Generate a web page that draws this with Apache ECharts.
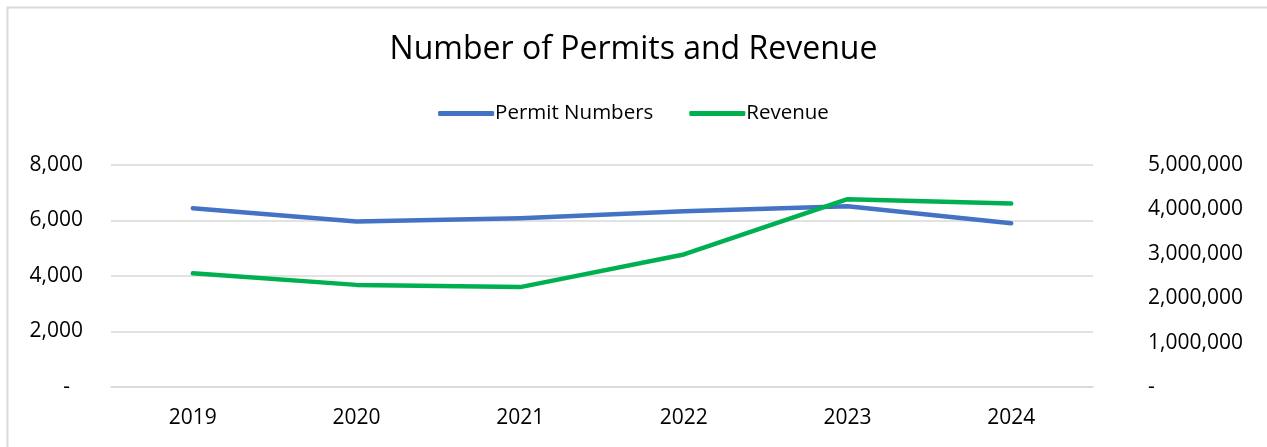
<!DOCTYPE html>
<html>
<head>
<meta charset="utf-8">
<script src="https://cdn.jsdelivr.net/npm/echarts@6/dist/echarts.min.js"></script>
<style>
html,body{margin:0;padding:0;background:#fff;}
#c{width:1267px;height:447px;}
</style>
</head>
<body>
<div id="c"></div>
<script>
const categories = ['2019', '2020', '2021', '2022', '2023', '2024'];
const permitNumbers = [6440, 5960, 6080, 6330, 6510, 5900];
const revenue = [2560000, 2300000, 2250000, 2985000, 4230000, 4135000];
const leftTicks = [0, 2000, 4000, 6000, 8000];
const rightTicks = [0, 1000000, 2000000, 3000000, 4000000, 5000000];

const FONT = 'Open Sans';
const fmt = v => v === 0 ? '-' : v.toLocaleString('en-US');

const chart = echarts.init(document.getElementById('c'), null, {renderer: 'canvas'});
chart.setOption({
  animation: false,
  backgroundColor: '#fff',
  textStyle: {fontFamily: FONT},
  graphic: [{
    type: 'rect', left: 5, top: 5,
    shape: {width: 1261, height: 460},
    style: {fill: 'none', stroke: '#d9d9d9', lineWidth: 2},
    silent: true
  }],
  title: {
    text: 'Number of Permits and Revenue',
    left: 'center', top: 29,
    textStyle: {fontFamily: FONT, fontSize: 32, fontWeight: 'normal', color: '#000'}
  },
  legend: {
    top: 98, left: 'center',
    itemWidth: 56, itemHeight: 5, itemGap: 36,
    icon: 'roundRect',
    textStyle: {fontFamily: FONT, fontSize: 20.5, color: '#000', padding: [0, 0, 0, -4]},
    data: ['Permit Numbers', 'Revenue']
  },
  grid: {left: 111, right: 174, top: 165, bottom: 60, containLabel: false},
  xAxis: {
    type: 'category', data: categories, boundaryGap: true,
    axisLine: {show: true, lineStyle: {color: '#d9d9d9', width: 1.5}},
    axisTick: {show: false},
    axisLabel: {fontFamily: FONT, fontSize: 21, color: '#000', margin: 21}
  },
  yAxis: [{
    type: 'value', min: 0, max: 8000, interval: 2000,
    axisLine: {show: false}, axisTick: {show: false},
    splitLine: {lineStyle: {color: '#d9d9d9', width: 1.5}},
    axisLabel: {
      fontFamily: FONT, fontSize: 21, color: '#000', margin: 28,
      formatter: v => v === 0 ? '{d|-}' : fmt(v),
      rich: {d: {fontFamily: FONT, fontSize: 21, color: '#000', padding: [0, 13, 0, 0]}}
    }
  }, {
    type: 'value', min: 0, max: 5000000, interval: 1000000,
    axisLine: {show: false}, axisTick: {show: false},
    splitLine: {show: false},
    axisLabel: {
      fontFamily: FONT, fontSize: 21, color: '#000', margin: 55, align: 'left',
      formatter: fmt
    }
  }],
  series: [{
    name: 'Permit Numbers', type: 'line', yAxisIndex: 0,
    data: permitNumbers, symbol: 'none',
    lineStyle: {color: '#4472c4', width: 4.5, cap: 'round', join: 'round'},
    itemStyle: {color: '#4472c4'}
  }, {
    name: 'Revenue', type: 'line', yAxisIndex: 1,
    data: revenue, symbol: 'none',
    lineStyle: {color: '#00b050', width: 4.5, cap: 'round', join: 'round'},
    itemStyle: {color: '#00b050'}
  }]
});
</script>
</body>
</html>
